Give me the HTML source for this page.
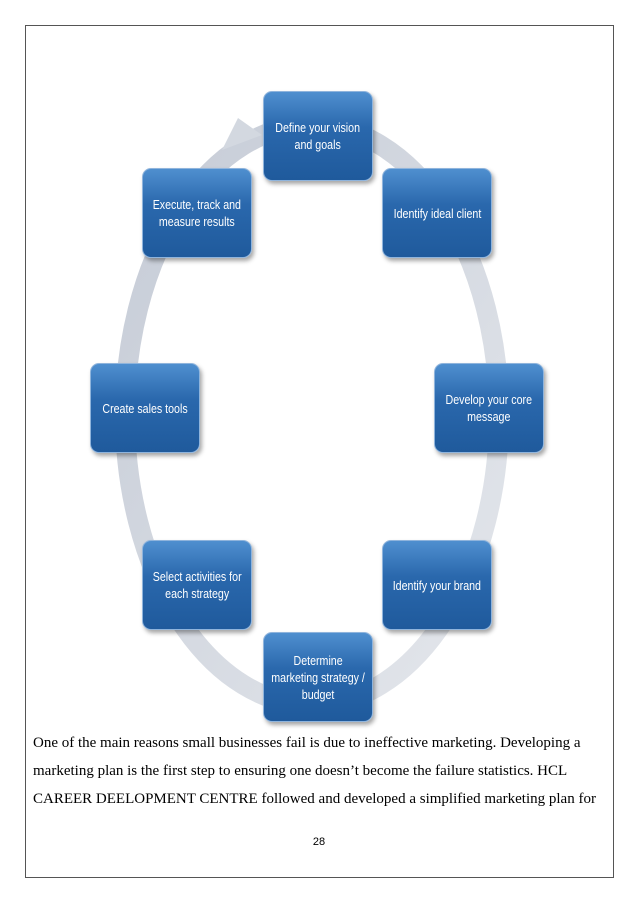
<!DOCTYPE html>
<html><head><meta charset="utf-8"><style>
body{margin:0;width:638px;height:903px;background:#fff;position:relative;overflow:hidden}
.pg{position:absolute;left:25px;top:25px;width:587px;height:851px;border:1px solid #555}
.b{position:absolute;width:108px;height:88px;border-radius:9px;background:linear-gradient(#4f8fcf,#2a68ad 40%,#1f5a9c);border:1px solid #8fb4dc;box-shadow:2px 3px 4px rgba(0,0,0,.35);color:#fff;font-family:"Liberation Sans",sans-serif;font-size:13px;line-height:17px;display:flex;align-items:center;justify-content:center;text-align:center}
.b span{display:inline-block;white-space:nowrap;transform:scaleX(.82)}
.t{position:absolute;left:33px;font-family:"Liberation Serif",serif;font-size:15px;color:#000;white-space:nowrap}
</style></head><body>
<div class="pg"></div>
<svg width="638" height="903" style="position:absolute;left:0;top:0">
<defs><linearGradient id="g" x1="0" y1="0" x2="1" y2="1"><stop offset="0" stop-color="#c5cbd6"/><stop offset="1" stop-color="#e4e7ec"/></linearGradient></defs>
<ellipse cx="312" cy="415" rx="187" ry="290" fill="none" stroke="url(#g)" stroke-width="20"/>
<polygon points="238,118 262,135 222,150" fill="#d3d8e0"/>
</svg>
<div class="b" style="left:263px;top:91px"><span>Define your vision<br>and goals</span></div>
<div class="b" style="left:382px;top:168px"><span>Identify ideal client</span></div>
<div class="b" style="left:434px;top:363px"><span>Develop your core<br>message</span></div>
<div class="b" style="left:382px;top:540px"><span>Identify your brand</span></div>
<div class="b" style="left:263px;top:632px"><span>Determine<br>marketing strategy /<br>budget</span></div>
<div class="b" style="left:142px;top:540px"><span>Select activities for<br>each strategy</span></div>
<div class="b" style="left:90px;top:363px"><span>Create sales tools</span></div>
<div class="b" style="left:142px;top:168px"><span>Execute, track and<br>measure results</span></div>
<div class="t" style="top:735px">One of the main reasons small businesses fail is due to ineffective marketing. Developing a</div>
<div class="t" style="top:763px">marketing plan is the first step to ensuring one doesn’t become the failure statistics. HCL</div>
<div class="t" style="top:791px">CAREER DEELOPMENT CENTRE followed and developed a simplified marketing plan for</div>
<div style="position:absolute;left:0;width:638px;top:836px;text-align:center;font-family:'Liberation Sans',sans-serif;font-size:11px">28</div>
</body></html>
